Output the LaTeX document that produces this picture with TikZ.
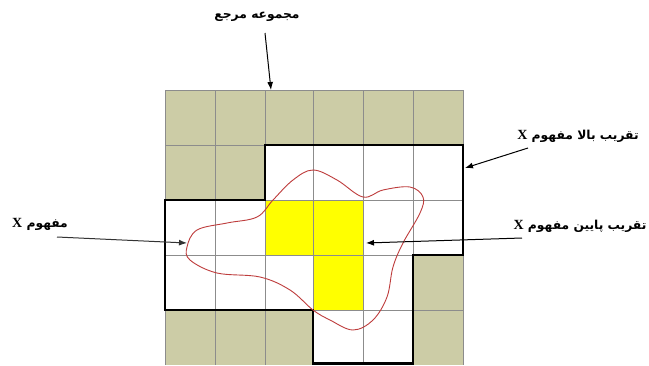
\documentclass[tikz,border=0pt]{standalone}
\usepackage{fontspec}
\setmainfont{Liberation Serif}
\newfontfamily\arabicfont[Script=Arabic]{DejaVu Sans}
\TeXXeTstate=1
\usetikzlibrary{arrows.meta}
\definecolor{olivecell}{RGB}{204,204,166}
\definecolor{blobred}{RGB}{190,60,60}
\definecolor{lowyellow}{RGB}{255,255,0}
\newcommand{\xsym}{{\normalfont\bfseries\fontsize{14}{14}\selectfont X}}
\tikzset{
  lbl/.style={font=\arabicfont\bfseries\fontsize{12.3}{14}\selectfont, inner sep=1pt},
  ptr/.style={line width=1pt, -{Latex[length=8pt,width=6pt]}},
  thickline/.style={line width=2.8pt, line join=miter},
  gridline/.style={line width=0.6pt, draw=black!45}
}
\begin{document}
\begin{tikzpicture}[x=1pt,y=-1pt]
\useasboundingbox (0,0) rectangle (649,365);
% universe
\fill[olivecell] (165,90) rectangle (463,365);
% upper approximation (white)
\fill[white] (265,145) -- (463,145) -- (463,255) -- (413,255) -- (413,365) -- (313,365) -- (313,310) -- (165,310) -- (165,200) -- (265,200) -- cycle;
% lower approximation
\fill[lowyellow] (265,200) rectangle (363,255);
\fill[lowyellow] (313,255) rectangle (363,310);
% grid
\foreach \x in {165,215,265,313,363,413,463} \draw[gridline] (\x,90) -- (\x,365);
\foreach \y in {90,145,200,255,310} \draw[gridline] (165,\y) -- (463,\y);
% upper approximation border
\draw[thickline] (265,145) -- (463,145) -- (463,255) -- (413,255) -- (413,363.5) -- (313,363.5) -- (313,310) -- (165,310) -- (165,200) -- (265,200) -- cycle;
% concept X
\draw[blobred, line width=0.9pt] plot[smooth cycle, tension=0.6] coordinates {
(313,170) (337,180) (363,197) (383,190) (410,187) (423,197) (420,213) (403,243) (393,267) (387,297) (373,320) (353,330) (330,320) (313,310) (290,290) (260,277) (217,273) (190,260) (187,247) (197,230) (227,223) (257,217) (273,200) (293,180)};
% labels
\node[lbl] (uni) at (257,17) {\beginR مجموعه مرجع\endR};
\node[lbl] (upper) at (578,136) {\beginR تقریب بالا مفهوم \xsym\endR};
\node[lbl] (lower) at (580,226) {\beginR تقریب پایین مفهوم \xsym\endR};
\node[lbl] (concept) at (40,224) {\beginR مفهوم \xsym\endR};
% arrow ends
\coordinate (uniS) at (265,33);
\coordinate (uniT) at (271,90);
\coordinate (upS) at (528,148);
\coordinate (upT) at (465,168);
\coordinate (loS) at (522,238);
\coordinate (loT) at (366,243);
\coordinate (coS) at (57,237);
\coordinate (coT) at (187,243);
\draw[ptr] (uniS) -- (uniT);
\draw[ptr] (upS) -- (upT);
\draw[ptr] (loS) -- (loT);
\draw[ptr, draw=black!80] (coS) -- (coT);
\end{tikzpicture}
\end{document}
